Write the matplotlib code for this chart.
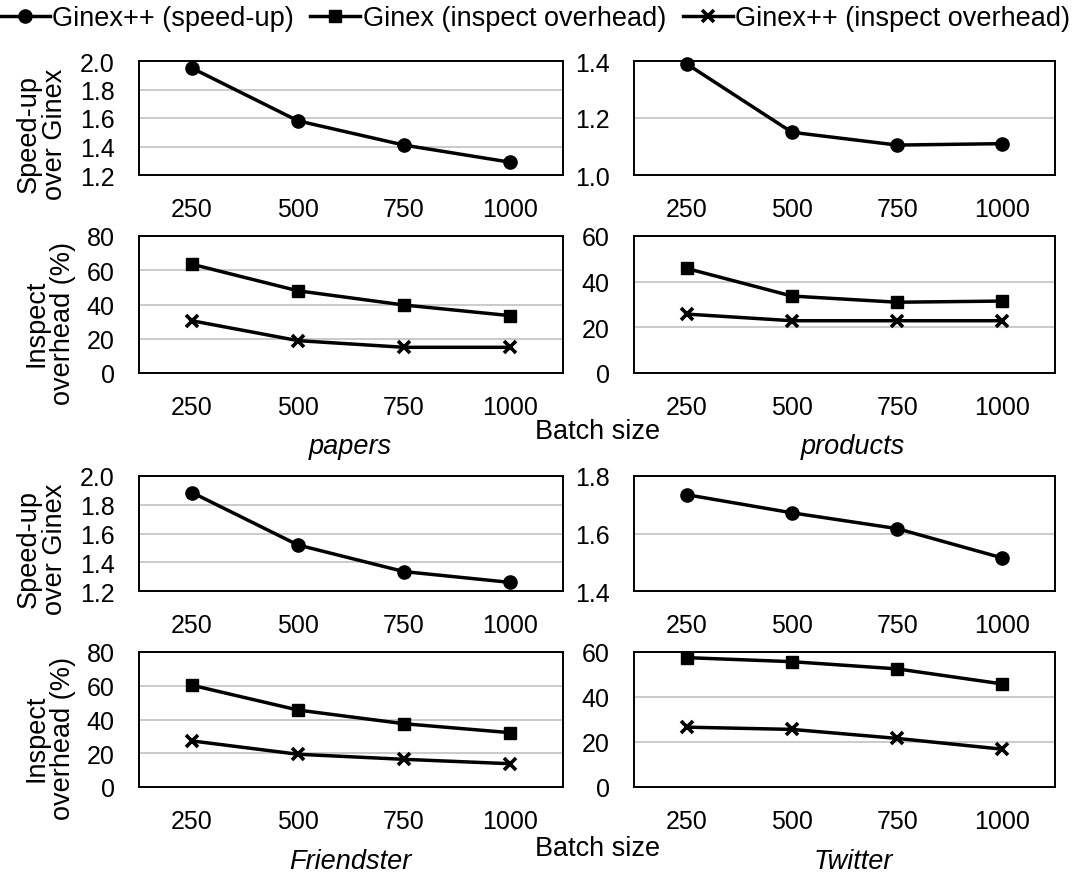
import matplotlib
matplotlib.use("Agg")
import matplotlib.pyplot as plt
from matplotlib.lines import Line2D

plt.rcParams['font.family'] = ['Liberation Sans', 'DejaVu Sans']
plt.rcParams['font.size'] = 18

batch_sizes = ["250", "500", "750", "1000"]

papers_speedup = [1.95, 1.58, 1.41, 1.29]
products_speedup = [1.39, 1.15, 1.105, 1.11]
friendster_speedup = [1.885, 1.52, 1.335, 1.26]
twitter_speedup = [1.735, 1.672, 1.617, 1.515]

papers_ginex_ovh = [63.5, 48, 39.7, 33.5]
papers_ginexpp_ovh = [30.5, 18.9, 15.0, 15.0]
products_ginex_ovh = [45.8, 33.7, 31, 31.5]
products_ginexpp_ovh = [25.8, 22.9, 22.9, 22.9]
friendster_ginex_ovh = [60.3, 45.6, 37.5, 32.2]
friendster_ginexpp_ovh = [27.3, 19.4, 16.4, 13.8]
twitter_ginex_ovh = [57.5, 55.7, 52.5, 45.8]
twitter_ginexpp_ovh = [26.6, 25.6, 21.6, 16.8]

legend_labels = ["Ginex++ (speed-up)", "Ginex (inspect overhead)", "Ginex++ (inspect overhead)"]
dataset_names = ["papers", "products", "Friendster", "Twitter"]

W, H = 1074, 878
fig = plt.figure(figsize=(W / 100, H / 100), dpi=100)

def ax_at(x0, top, w, h):
    return fig.add_axes([x0 / W, 1 - (top + h) / H, w / W, h / H])

cols = [(139, 424), (634, 421)]
rows = [(62, 114), (237, 137), (477, 115), (653, 135)]

xs = list(range(len(batch_sizes)))
TICK_FS = 18
LABEL_FS = 19.5

def style(ax, ylim, yticks, yfmt):
    ax.set_xlim(-0.5, len(batch_sizes) - 0.5)
    ax.set_ylim(*ylim)
    ax.set_yticks(yticks)
    ax.set_yticklabels([yfmt.format(v) for v in yticks])
    ax.set_xticks(xs)
    ax.set_xticklabels(batch_sizes)
    ax.tick_params(axis='both', length=0, labelsize=TICK_FS)
    ax.tick_params(axis='x', pad=16)
    ax.tick_params(axis='y', pad=17.5)
    ax.yaxis.grid(True, color='#c6c6c6', linewidth=1.3)
    ax.set_axisbelow(True)
    for s in ax.spines.values():
        s.set_linewidth(1.4)
        s.set_color('black')

lw = 2.5
speed_data = [papers_speedup, products_speedup, friendster_speedup, twitter_speedup]
ovh_data = [(papers_ginex_ovh, papers_ginexpp_ovh), (products_ginex_ovh, products_ginexpp_ovh),
            (friendster_ginex_ovh, friendster_ginexpp_ovh), (twitter_ginex_ovh, twitter_ginexpp_ovh)]
speed_lims = [((1.2, 2.0), [1.2, 1.4, 1.6, 1.8, 2.0]), ((1.0, 1.4), [1.0, 1.2, 1.4]),
              ((1.2, 2.0), [1.2, 1.4, 1.6, 1.8, 2.0]), ((1.4, 1.8), [1.4, 1.6, 1.8])]
ovh_lims = [((0, 80), [0, 20, 40, 60, 80]), ((0, 60), [0, 20, 40, 60]),
            ((0, 80), [0, 20, 40, 60, 80]), ((0, 60), [0, 20, 40, 60])]

for i in range(4):
    c = i % 2
    g = i // 2
    x0, w = cols[c]
    top_s, h_s = rows[2 * g]
    top_o, h_o = rows[2 * g + 1]
    axs = ax_at(x0, top_s, w, h_s)
    axs.plot(xs, speed_data[i], color='black', lw=lw, marker='o', markersize=9.5, clip_on=False)
    style(axs, speed_lims[i][0], speed_lims[i][1], "{:.1f}")
    axo = ax_at(x0, top_o, w, h_o)
    axo.plot(xs, ovh_data[i][0], color='black', lw=lw, marker='s', markersize=8.5, clip_on=False)
    axo.plot(xs, ovh_data[i][1], color='black', lw=lw, marker='x', markersize=9,
             markeredgewidth=2.6, clip_on=False)
    style(axo, ovh_lims[i][0], ovh_lims[i][1], "{:.0f}")

# y labels
for g in range(2):
    top_s, h_s = rows[2 * g]
    top_o, h_o = rows[2 * g + 1]
    fig.text(42 / W, 1 - (top_s + h_s / 2 + 15) / H, "Speed-up\nover Ginex", rotation=90,
             ha='center', va='center', fontsize=LABEL_FS, linespacing=1.05)
    fig.text(50 / W, 1 - (top_o + h_o / 2 + 18) / H, "Inspect\noverhead (%)", rotation=90,
             ha='center', va='center', fontsize=LABEL_FS, linespacing=1.05)

# batch size and dataset names
for g, (yb, yn) in enumerate([(432, 447), (849, 862)]):
    fig.text(598 / W, 1 - yb / H, "Batch size", ha='center', va='center', fontsize=LABEL_FS)
    fig.text(350 / W, 1 - yn / H, dataset_names[2 * g], ha='center', va='center',
             fontsize=LABEL_FS, style='italic')
    fig.text(853 / W, 1 - yn / H, dataset_names[2 * g + 1], ha='center', va='center',
             fontsize=LABEL_FS, style='italic')

handles = [
    Line2D([], [], color='black', lw=lw, marker='o', markersize=9.5),
    Line2D([], [], color='black', lw=lw, marker='s', markersize=8.5),
    Line2D([], [], color='black', lw=lw, marker='x', markersize=9, markeredgewidth=2.6),
]
fig.legend(handles, legend_labels, loc='center', bbox_to_anchor=(535 / W, 1 - 19 / H),
           ncol=3, frameon=False, fontsize=LABEL_FS, handlelength=1.85, handletextpad=0.1,
           columnspacing=0.6, borderaxespad=0, borderpad=0)

fig.savefig("out.png", dpi=100)
